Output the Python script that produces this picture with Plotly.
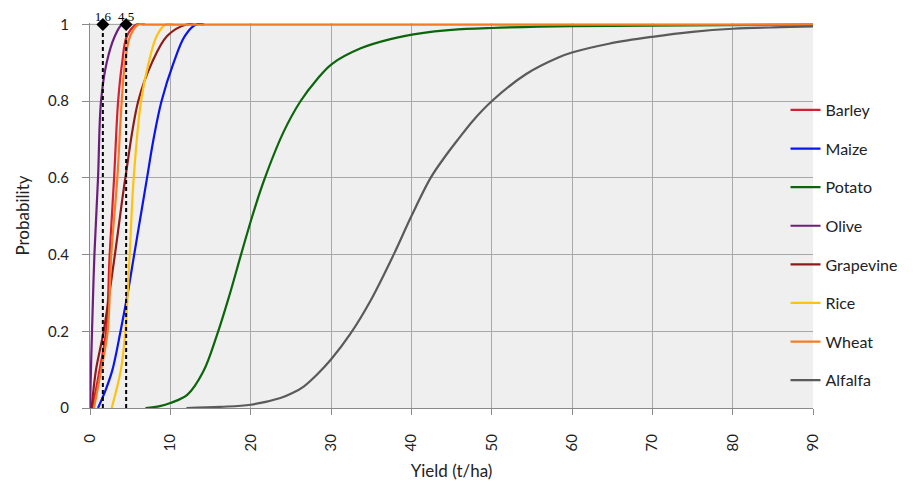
import plotly.graph_objects as go

# ---- data (yield in t/ha, cumulative probability) ----
barley_x = [0.3, 1.2, 2.0, 2.45, 3.0, 3.5, 4.0, 4.6, 5.8, 6.8]
barley_y = [0.0, 0.1, 0.2, 0.4, 0.6, 0.8, 0.9, 0.97, 1.0, 1.0]

maize_x = [1.0, 2.0, 2.8, 3.8, 4.7, 5.5, 6.3, 7.1, 7.9, 8.9, 10.4, 11.8, 13.2, 14.2]
maize_y = [0.0, 0.05, 0.1, 0.2, 0.3, 0.4, 0.5, 0.6, 0.7, 0.8, 0.9, 0.97, 1.0, 1.0]

potato_x = [6.9, 8.7, 10.0, 12.1, 14.1, 15.8, 17.3, 18.8, 20.2, 21.6, 24.1, 26.2, 28.3, 30.1, 33.7, 37.4, 41.1, 45.0, 50.0, 60.0, 90.0]
potato_y = [0.0, 0.005, 0.013, 0.034, 0.095, 0.19, 0.29, 0.4, 0.5, 0.59, 0.72, 0.80, 0.858, 0.897, 0.938, 0.962, 0.977, 0.986, 0.991, 0.996, 1.0]

olive_x = [0.0, 0.12, 0.25, 0.55, 1.0, 1.37, 2.07, 3.1, 4.0, 5.0]
olive_y = [0.0, 0.1, 0.2, 0.4, 0.6, 0.8, 0.9, 0.97, 1.0, 1.0]

grapevine_x = [0.2, 0.75, 1.7, 3.1, 4.4, 6.0, 7.7, 9.6, 12.0, 13.0]
grapevine_y = [0.0, 0.1, 0.2, 0.4, 0.6, 0.8, 0.9, 0.97, 1.0, 1.0]

rice_x = [2.7, 3.85, 4.4, 4.94, 5.44, 6.35, 7.3, 8.3, 9.4, 10.4]
rice_y = [0.0, 0.1, 0.2, 0.4, 0.6, 0.8, 0.9, 0.97, 1.0, 1.0]

wheat_x = [0.5, 1.4, 2.2, 2.65, 3.4, 3.95, 4.35, 5.0, 6.0, 7.0, 90.0]
wheat_y = [0.0, 0.1, 0.2, 0.4, 0.6, 0.8, 0.9, 0.97, 1.0, 1.0, 1.0]

alfalfa_x = [12.0, 16.2, 20.0, 23.7, 25.2, 26.6, 28.3, 30.1, 32.4, 34.9, 37.8, 40.0, 42.4, 44.0, 45.8, 47.7, 50.0, 54.3, 58.3, 60.0, 64.6, 70.0, 75.0, 80.0, 86.0, 90.0]
alfalfa_y = [0.0, 0.003, 0.0085, 0.026, 0.039, 0.056, 0.088, 0.129, 0.193, 0.279, 0.4, 0.5, 0.6, 0.65, 0.7, 0.75, 0.8, 0.871, 0.914, 0.927, 0.950, 0.968, 0.981, 0.989, 0.993, 0.995]

# reference thresholds (dashed markers)
marker_x = [1.6, 4.5]
marker_y = [1.0, 1.0]
marker_labels = ["1.6", "4.5"]

x_ticks = [0, 10, 20, 30, 40, 50, 60, 70, 80, 90]
y_ticks = [0, 0.2, 0.4, 0.6, 0.8, 1]

series = [
    ("Barley", barley_x, barley_y, "#D42030"),
    ("Maize", maize_x, maize_y, "#0A14F0"),
    ("Potato", potato_x, potato_y, "#0B650B"),
    ("Olive", olive_x, olive_y, "#6B1F7C"),
    ("Grapevine", grapevine_x, grapevine_y, "#8E1B1B"),
    ("Rice", rice_x, rice_y, "#FFC20E"),
    ("Wheat", wheat_x, wheat_y, "#F57C22"),
    ("Alfalfa", alfalfa_x, alfalfa_y, "#5A5A5A"),
]

fig = go.Figure()
for name, xs, ys, col in series:
    fig.add_trace(go.Scatter(
        x=xs, y=ys, mode="lines", name=name, legendgroup=name,
        line=dict(color=col, width=2.2, shape="spline", smoothing=1.0),
    ))

for mx, my in zip(marker_x, marker_y):
    fig.add_trace(go.Scatter(
        x=[mx, mx], y=[0, my], mode="lines", showlegend=False,
        line=dict(color="black", width=2, dash="4px,3px"),
        hoverinfo="skip",
    ))

fig.add_trace(go.Scatter(
    x=marker_x, y=marker_y, mode="markers", showlegend=False,
    marker=dict(symbol="diamond", size=10, color="black"),
    cliponaxis=False,
))

# value labels above the markers (drawn after the markers so they stay on top)
fig.add_trace(go.Scatter(
    x=marker_x, y=marker_y, mode="text", text=marker_labels,
    textposition="top center", showlegend=False, cliponaxis=False,
    textfont=dict(family="Liberation Serif", size=13, color="black"),
    hoverinfo="skip",
))

fig.update_layout(
    width=916, height=490,
    margin=dict(l=82, r=111, t=15, b=90, autoexpand=False),
    paper_bgcolor="white",
    plot_bgcolor="#EFEFEF",
    font=dict(family="Lato", size=15, color="#222222"),
    showlegend=True,
    legend=dict(
        x=0.962, y=0.818, xanchor="left", yanchor="top",
        bgcolor="rgba(0,0,0,0)", borderwidth=0,
        font=dict(family="Lato", size=16, color="#222222"),
        tracegroupgap=14.8, traceorder="grouped",
    ),
)

fig.update_xaxes(
    range=[0, 90], tickvals=x_ticks, tickangle=-90, automargin=False,
    showgrid=True, gridcolor="#A8A8A8", gridwidth=1,
    showline=True, linecolor="#8A8A8A", linewidth=1,
    ticks="outside", ticklen=6, tickcolor="#8A8A8A",
    ticklabelstandoff=13, zeroline=False,
    title=dict(text="Yield (t/ha)", font=dict(family="Lato", size=17), standoff=14),
    tickfont=dict(family="Lato", size=15, color="#222222"),
)
fig.update_yaxes(
    range=[0, 1.004], tickvals=y_ticks, automargin=False,
    showgrid=True, gridcolor="#A8A8A8", gridwidth=1,
    showline=True, linecolor="#8A8A8A", linewidth=1,
    ticks="outside", ticklen=7, tickcolor="#8A8A8A",
    ticklabelstandoff=10, zeroline=False,
    title=dict(text="Probability", font=dict(family="Lato", size=17), standoff=14),
    tickfont=dict(family="Lato", size=15, color="#222222"),
)

fig.write_html("out.html")
